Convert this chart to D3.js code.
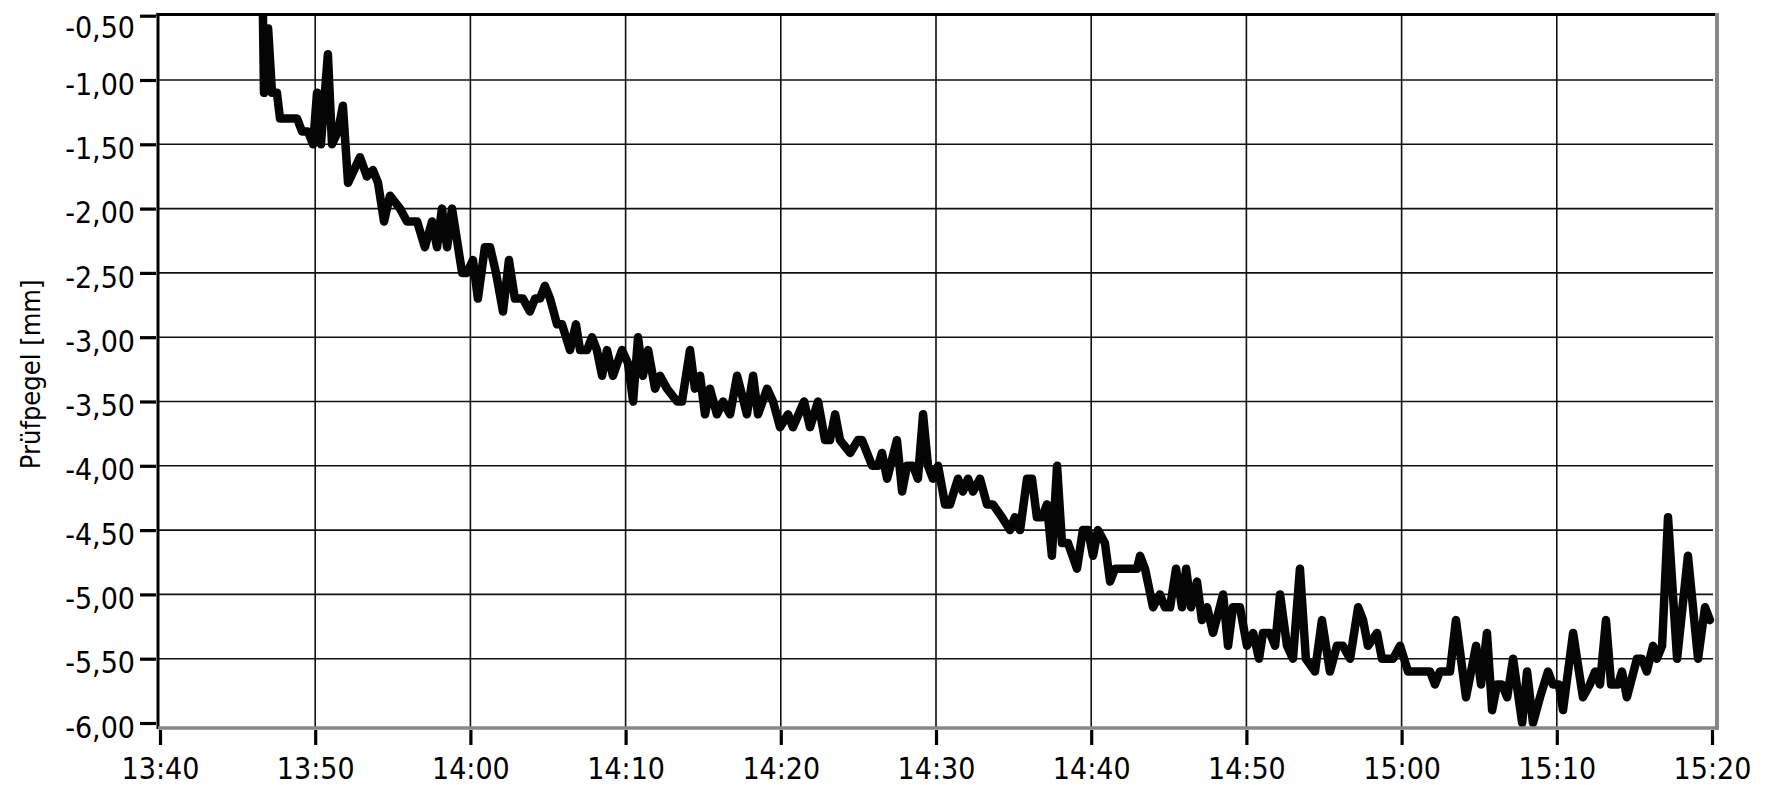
<!DOCTYPE html>
<html>
<head>
<meta charset="utf-8">
<script src="https://cdn.jsdelivr.net/npm/d3@7"></script>
<style>
  html, body { margin: 0; padding: 0; background: #ffffff; }
  svg { display: block; }
  text { font-family: "DejaVu Sans Condensed", "DejaVu Sans", sans-serif; font-stretch: condensed; fill: #000; }
</style>
</head>
<body>
<svg id="chart" width="1769" height="785"></svg>
<script>
// Prüfpegel-Messreihe: Zeitstempel (hh:mm:ss) und Pegel in mm
const sampleTimes = [
  "13:46:38","13:46:42","13:46:58","13:47:13","13:47:32","13:47:44","13:48:50","13:49:09","13:49:32","13:49:52",
  "13:50:07","13:50:22","13:50:49","13:51:05","13:51:28","13:51:47","13:52:07","13:52:53","13:53:20","13:53:43",
  "13:54:03","13:54:26","13:54:49","13:55:28","13:55:55","13:56:34","13:57:04","13:57:32","13:57:51","13:58:10",
  "13:58:30","13:58:49","13:59:28","13:59:47","14:00:10","14:00:29","14:00:56","14:01:16","14:01:39","14:02:06",
  "14:02:29","14:02:52","14:03:23","14:03:50","14:04:10","14:04:29","14:04:48","14:05:08","14:05:35","14:05:54",
  "14:06:25","14:06:48","14:07:04","14:07:31","14:07:50","14:08:09","14:08:29","14:08:48","14:09:11","14:09:46",
  "14:10:09","14:10:29","14:10:48","14:11:07","14:11:27","14:11:54","14:12:13","14:12:40","14:13:19","14:13:38",
  "14:14:09","14:14:28","14:14:48","14:15:07","14:15:26","14:15:53","14:16:17","14:16:44","14:17:11","14:17:49",
  "14:18:13","14:18:32","14:19:07","14:19:30","14:19:57","14:20:28","14:20:47","14:21:30","14:21:53","14:22:24",
  "14:22:51","14:23:10","14:23:30","14:23:49","14:24:28","14:24:58","14:25:14","14:25:53","14:26:16","14:26:31",
  "14:26:51","14:27:29","14:27:49","14:28:08","14:28:31","14:28:50","14:29:10","14:29:29","14:29:48","14:30:08",
  "14:30:35","14:30:54","14:31:25","14:31:44","14:32:04","14:32:23","14:32:50","14:33:17","14:33:40","14:34:15",
  "14:34:46","14:35:05","14:35:25","14:35:52","14:36:11","14:36:30","14:36:50","14:37:09","14:37:28","14:37:48",
  "14:38:07","14:38:30","14:39:05","14:39:28","14:39:48","14:40:07","14:40:26","14:40:53","14:41:13","14:41:32",
  "14:42:57","14:43:09","14:43:28","14:43:59","14:44:26","14:44:45","14:45:05","14:45:28","14:45:51","14:46:07",
  "14:46:26","14:46:49","14:47:08","14:47:28","14:47:51","14:48:30","14:48:49","14:49:08","14:49:35","14:50:02",
  "14:50:26","14:50:49","14:51:04","14:51:31","14:51:51","14:52:10","14:52:37","14:53:00","14:53:27","14:53:50",
  "14:54:25","14:54:52","14:55:23","14:55:50","14:56:13","14:56:41","14:57:12","14:57:31","14:57:50","14:58:25",
  "14:58:44","14:59:27","14:59:54","15:00:25","15:01:50","15:02:09","15:02:28","15:03:07","15:03:30","15:04:09",
  "15:04:48","15:05:07","15:05:30","15:05:50","15:06:09","15:06:28","15:06:48","15:07:11","15:07:46","15:08:05",
  "15:08:28","15:08:55","15:09:26","15:09:45","15:10:08","15:10:24","15:11:03","15:11:41","15:12:08","15:12:28",
  "15:12:47","15:13:10","15:13:30","15:13:57","15:14:12","15:14:31","15:15:10","15:15:29","15:15:48","15:16:12",
  "15:16:27","15:16:47","15:17:10","15:17:45","15:18:27","15:19:06","15:19:33","15:19:52"
];
const levels = [
  -0.5,-1.1,-0.6,-1.1,-1.1,-1.3,-1.3,-1.4,-1.4,-1.5,
  -1.1,-1.5,-0.8,-1.5,-1.4,-1.2,-1.8,-1.6,-1.75,-1.7,
  -1.8,-2.1,-1.9,-2.0,-2.1,-2.1,-2.3,-2.1,-2.3,-2.0,
  -2.3,-2.0,-2.5,-2.5,-2.4,-2.7,-2.3,-2.3,-2.5,-2.8,
  -2.4,-2.7,-2.7,-2.8,-2.7,-2.7,-2.6,-2.7,-2.9,-2.9,
  -3.1,-2.9,-3.1,-3.1,-3.0,-3.1,-3.3,-3.1,-3.3,-3.1,
  -3.2,-3.5,-3.0,-3.3,-3.1,-3.4,-3.3,-3.4,-3.5,-3.5,
  -3.1,-3.4,-3.3,-3.6,-3.4,-3.6,-3.5,-3.6,-3.3,-3.6,
  -3.3,-3.6,-3.4,-3.5,-3.7,-3.6,-3.7,-3.5,-3.7,-3.5,
  -3.8,-3.8,-3.6,-3.8,-3.9,-3.8,-3.8,-4.0,-4.0,-3.9,
  -4.1,-3.8,-4.2,-4.0,-4.0,-4.1,-3.6,-4.0,-4.1,-4.0,
  -4.3,-4.3,-4.1,-4.2,-4.1,-4.2,-4.1,-4.3,-4.3,-4.4,
  -4.5,-4.4,-4.5,-4.1,-4.1,-4.4,-4.4,-4.3,-4.7,-4.0,
  -4.6,-4.6,-4.8,-4.5,-4.5,-4.7,-4.5,-4.6,-4.9,-4.8,
  -4.8,-4.7,-4.8,-5.1,-5.0,-5.1,-5.1,-4.8,-5.1,-4.8,
  -5.1,-4.9,-5.2,-5.1,-5.3,-5.0,-5.4,-5.1,-5.1,-5.4,
  -5.3,-5.5,-5.3,-5.3,-5.4,-5.0,-5.4,-5.5,-4.8,-5.5,
  -5.6,-5.2,-5.6,-5.4,-5.4,-5.5,-5.1,-5.2,-5.4,-5.3,
  -5.5,-5.5,-5.4,-5.6,-5.6,-5.7,-5.6,-5.6,-5.2,-5.8,
  -5.4,-5.7,-5.3,-5.9,-5.7,-5.7,-5.8,-5.5,-6.0,-5.6,
  -6.0,-5.8,-5.6,-5.7,-5.7,-5.9,-5.3,-5.8,-5.7,-5.6,
  -5.7,-5.2,-5.7,-5.7,-5.6,-5.8,-5.5,-5.5,-5.6,-5.4,
  -5.5,-5.4,-4.4,-5.5,-4.7,-5.5,-5.1,-5.2
];

// Achsenbeschriftung
const timeTicks = ["13:40","13:50","14:00","14:10","14:20","14:30","14:40","14:50","15:00","15:10","15:20"];
const levelTicks = [-0.5,-1.0,-1.5,-2.0,-2.5,-3.0,-3.5,-4.0,-4.5,-5.0,-5.5,-6.0];
const yTitle = "Prüfpegel [mm]";

const parseHMS = d3.timeParse("%H:%M:%S");
const parseHM = d3.timeParse("%H:%M");
// Dezimalkomma und einfacher Bindestrich als Vorzeichen
const de = d3.formatLocale({ decimal: ",", thousands: ".", grouping: [3], currency: ["", " €"], minus: "-" });
const fmtLevel = de.format(".2f");
const fmtTime = d3.timeFormat("%H:%M");

const data = sampleTimes.map((t, i) => ({ t: parseHMS(t), v: levels[i] }));
const tickDates = timeTicks.map(parseHM);

const x = d3.scaleTime()
  .domain([tickDates[0], tickDates[tickDates.length - 1]])
  .range([160, 1712]);
const y = d3.scaleLinear()
  .domain([-6, -0.5])
  .range([723, 15.7]);

const svg = d3.select("#chart");

// Plotbereich
const plot = { left: 158, top: 14.5, right: 1717, bottom: 728 };

svg.append("rect")
  .attr("x", plot.left).attr("y", plot.top)
  .attr("width", plot.right - plot.left).attr("height", plot.bottom - plot.top)
  .attr("fill", "#ffffff");

svg.append("defs").append("clipPath").attr("id", "plotClip")
  .append("rect")
  .attr("x", plot.left + 1).attr("y", plot.top + 1.5)
  .attr("width", plot.right - plot.left - 2).attr("height", plot.bottom - plot.top - 2.5);

// Gitterlinien
const grid = svg.append("g").attr("stroke", "#111").attr("stroke-width", 1.6);
grid.selectAll("line.h")
  .data(levelTicks.filter(v => v > -6 && v < -0.5))
  .join("line")
  .attr("x1", plot.left).attr("x2", 1713)
  .attr("y1", d => y(d)).attr("y2", d => y(d));
grid.selectAll("line.v")
  .data(tickDates.slice(1, -1))
  .join("line")
  .attr("x1", d => x(d)).attr("x2", d => x(d))
  .attr("y1", plot.top).attr("y2", plot.bottom);

// Messkurve
const line = d3.line().x(d => x(d.t)).y(d => y(d.v));
svg.append("path")
  .datum(data)
  .attr("clip-path", "url(#plotClip)")
  .attr("fill", "none")
  .attr("stroke", "#050505")
  .attr("stroke-width", 8.5)
  .attr("stroke-linejoin", "round")
  .attr("stroke-linecap", "round")
  .attr("d", line);

// Rahmen: oben/links dunkel, unten/rechts grau
const frame = svg.append("g");
frame.append("line").attr("x1", plot.left - 1.5).attr("x2", plot.right + 1)
  .attr("y1", plot.top).attr("y2", plot.top)
  .attr("stroke", "#000").attr("stroke-width", 3);
frame.append("line").attr("x1", plot.left).attr("x2", plot.left)
  .attr("y1", plot.top - 1.5).attr("y2", plot.bottom + 1)
  .attr("stroke", "#000").attr("stroke-width", 3);
frame.append("line").attr("x1", plot.left).attr("x2", plot.right + 2)
  .attr("y1", plot.bottom).attr("y2", plot.bottom)
  .attr("stroke", "#888").attr("stroke-width", 3.5);
frame.append("line").attr("x1", plot.right).attr("x2", plot.right)
  .attr("y1", plot.top - 1.5).attr("y2", plot.bottom + 1.75)
  .attr("stroke", "#888").attr("stroke-width", 4);

// Achsen
const yAxis = d3.axisLeft(y)
  .tickValues(levelTicks)
  .tickFormat(fmtLevel)
  .tickSize(16)
  .tickPadding(5);
const gy = svg.append("g")
  .attr("transform", `translate(${plot.left - 2},0)`)
  .call(yAxis);
gy.select(".domain").remove();
gy.selectAll(".tick line").attr("stroke", "#000").attr("stroke-width", 3.2);
gy.selectAll(".tick text")
  .attr("font-size", 30)
  .attr("fill", "#000")
  .attr("dy", "0.47em");
// oberste Beschriftung bleibt innerhalb der Fläche
gy.selectAll(".tick text").filter(d => d === -0.5).attr("dy", "0.72em");

const xAxis = d3.axisBottom(x)
  .tickValues(tickDates)
  .tickFormat(fmtTime)
  .tickSize(15)
  .tickPadding(13);
const gx = svg.append("g")
  .attr("transform", `translate(0,${plot.bottom + 2})`)
  .call(xAxis);
gx.select(".domain").remove();
gx.selectAll(".tick line").attr("stroke", "#000").attr("stroke-width", 3.2);
gx.selectAll(".tick text").attr("font-size", 30).attr("fill", "#000");

// Achsentitel
svg.append("text")
  .attr("transform", `translate(40,${(y(-0.5) + y(-6)) / 2 + 5}) rotate(-90)`)
  .attr("text-anchor", "middle")
  .attr("font-size", 27)
  .text(yTitle);
</script>
</body>
</html>
